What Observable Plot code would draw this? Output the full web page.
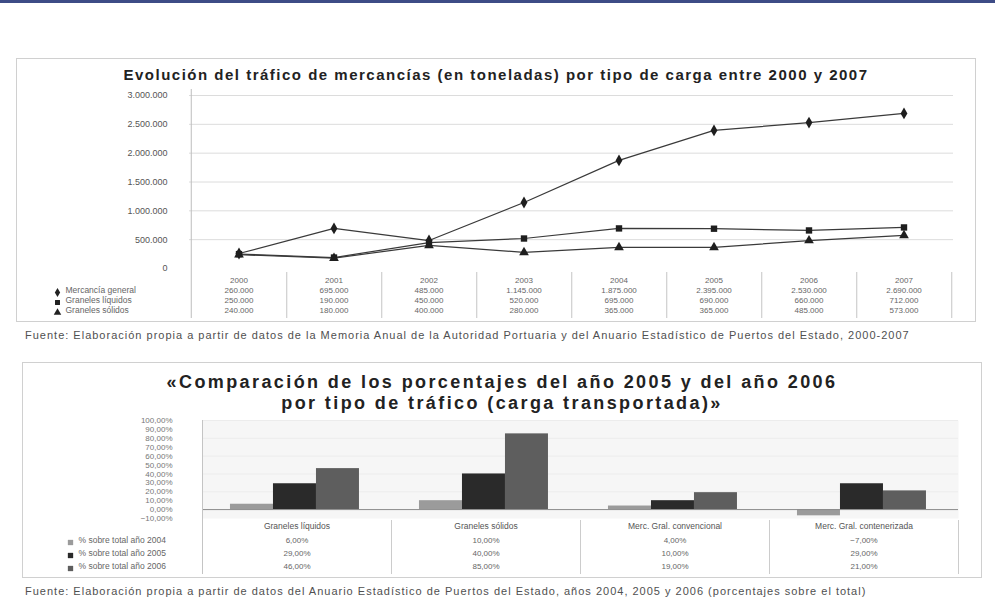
<!DOCTYPE html>
<html lang="es"><head><meta charset="utf-8">
<script src="https://cdn.jsdelivr.net/npm/d3@7"></script>
<script src="https://cdn.jsdelivr.net/npm/@observablehq/plot@0.6"></script>
<style>
html,body{margin:0;padding:0;background:#fff;}
body{width:995px;height:601px;position:relative;overflow:hidden;font-family:"Liberation Sans",Arial,sans-serif;}
#topbar{position:absolute;left:0;top:0;width:995px;height:3px;background:#3d4c86;}
.box{position:absolute;border:1px solid #d0d0d0;background:#fff;}
.title{position:absolute;left:0;right:0;text-align:center;font-weight:bold;color:#222;white-space:nowrap;}
.plotwrap{position:absolute;left:0;}
.src{position:absolute;left:25px;font-size:11px;color:#505050;white-space:nowrap;}
</style></head><body>
<div id="topbar"></div>
<div class="box" id="box1" style="left:16px;top:58px;width:958px;height:262px;">
  <div class="title" id="t1" style="top:7px;font-size:15px;letter-spacing:1.5px;"></div>
  <div class="plotwrap" id="p1" style="top:28px;"></div>
</div>
<div class="src" id="s1" style="top:329px;letter-spacing:1px;"></div>
<div class="box" id="box2" style="left:22px;top:362px;width:958px;height:214px;">
  <div class="title" id="t2" style="top:9px;font-size:18px;line-height:21px;letter-spacing:2.4px;"></div>
  <div class="plotwrap" id="p2" style="top:51px;"></div>
</div>
<div class="src" id="s2" style="top:585px;letter-spacing:1px;"></div>
<script>
// ---------- Data: chart 1 (line chart) ----------
const title1 = "Evolución del tráfico de mercancías (en toneladas) por tipo de carga entre 2000 y 2007";
const years = ["2000","2001","2002","2003","2004","2005","2006","2007"];
const seriesNames1 = ["Mercancía general","Graneles líquidos","Graneles sólidos"];
const serieMerc = [260000, 695000, 485000, 1145000, 1875000, 2395000, 2530000, 2690000];
const serieLiq  = [250000, 190000, 450000, 520000, 695000, 690000, 660000, 712000];
const serieSol  = [240000, 180000, 400000, 280000, 365000, 365000, 485000, 573000];
const yTicks1 = [0, 500000, 1000000, 1500000, 2000000, 2500000, 3000000];
const source1 = "Fuente: Elaboración propia a partir de datos de la Memoria Anual de la Autoridad Portuaria y del Anuario Estadístico de Puertos del Estado, 2000-2007";

// ---------- Data: chart 2 (grouped bars) ----------
const title2 = ["«Comparación de los porcentajes del año 2005 y del año 2006", "por tipo de tráfico (carga transportada)»"];
const cats2 = ["Graneles líquidos","Graneles sólidos","Merc. Gral. convencional","Merc. Gral. contenerizada"];
const seriesNames2 = ["% sobre total año 2004","% sobre total año 2005","% sobre total año 2006"];
const v2004 = [6, 10, 4, -7];
const v2005 = [29, 40, 10, 29];
const v2006 = [46, 85, 19, 21];
const yTicks2 = [-10, 0, 10, 20, 30, 40, 50, 60, 70, 80, 90, 100];
const source2 = "Fuente: Elaboración propia a partir de datos del Anuario Estadístico de Puertos del Estado, años 2004, 2005 y 2006 (porcentajes sobre el total)";

// ---------- helpers ----------
const loc = d3.formatLocale({decimal: ",", thousands: ".", grouping: [3], currency: ["", " €"]});
const fmtInt = loc.format(",d");
const fmt2 = loc.format(",.2f");
const fmtPct = v => fmt2(v) + "%";
const FONT = "'Liberation Sans', Arial, sans-serif";

document.getElementById("t1").textContent = title1;
document.getElementById("t2").innerHTML = title2.map(s => s.replace(/&/g,"&amp;").replace(/</g,"&lt;")).join("<br>");
document.getElementById("s1").textContent = source1;
document.getElementById("s2").textContent = source2;

// ---------- Chart 1 ----------
{
  const W = 958, H = 234, ML = 172, MR = 22, MT = 8, MB = 53;
  const bw = (W - ML - MR) / years.length;
  const plotH = H - MT - MB;
  const vals = [serieMerc, serieLiq, serieSol];
  const symbols = ["diamond", "square", "triangle"];
  const rows = seriesNames1.flatMap((s, i) => years.map((yr, j) => ({serie: s, year: yr, value: vals[i][j]})));
  const tableMarks = [];
  seriesNames1.forEach((s, i) => {
    const sub = rows.filter(d => d.serie === s);
    tableMarks.push(Plot.text(sub, {x: "year", text: d => fmtInt(d.value), frameAnchor: "bottom", dy: 24 + 10 * i, fill: "#666", fontSize: 8}));
    tableMarks.push(Plot.dot([s], {frameAnchor: "bottom-left", dx: -132, dy: 24 + 10 * i, symbol: d => d, fill: "#222", r: 2.8}));
    tableMarks.push(Plot.text([s], {frameAnchor: "bottom-left", dx: -124, dy: 24 + 10 * i, text: d => d, textAnchor: "start", fill: "#666", fontSize: 8.5}));
  });
  const chart = Plot.plot({
    width: W, height: H, marginLeft: ML, marginRight: MR, marginTop: MT, marginBottom: MB,
    style: {fontFamily: FONT, fontSize: "9px", background: "transparent", overflow: "visible", color: "#444"},
    x: {type: "band", domain: years, paddingInner: 0, paddingOuter: 0, axis: null},
    y: {domain: [0, yTicks1[yTicks1.length - 1]], axis: null},
    symbol: {domain: seriesNames1, range: symbols},
    marks: [
      Plot.gridY(yTicks1.slice(1), {stroke: "#dcdcdc", strokeOpacity: 1}),
      Plot.axisY(yTicks1, {tickSize: 0, tickPadding: 22, tickFormat: fmtInt, label: null, fill: "#555", fontSize: 9}),
      Plot.ruleX([years[0]], {x: d => d, dx: -bw / 2, insetTop: -6, insetBottom: -50, stroke: "#bdbdbd"}),
      Plot.ruleX(years, {x: d => d, dx: bw / 2, insetTop: plotH + 4, insetBottom: -50, stroke: "#c4c4c4"}),
      Plot.line(rows, {x: "year", y: "value", z: "serie", stroke: "#3a3a3a", strokeWidth: 1.2}),
      Plot.dot(rows, {x: "year", y: "value", symbol: "serie", fill: "#1e1e1e", r: 3.6}),
      Plot.text(years, {x: d => d, text: d => d, frameAnchor: "bottom", dy: 14, fill: "#666", fontSize: 8}),
      ...tableMarks
    ]
  });
  document.getElementById("p1").appendChild(chart);
}

// ---------- Chart 2 ----------
{
  const W = 958, H = 163, ML = 179, MR = 23, MT = 6, MB = 59;
  const bw = (W - ML - MR) / cats2.length;
  const vals = [v2004, v2005, v2006];
  const colors = ["#9b9b9b", "#2a2a2a", "#5e5e5e"];
  const barOff = bw * 0.148, barW = bw * 0.2275;
  const bars = vals.map((v, i) => Plot.barY(cats2.map((c, j) => ({cat: c, value: v[j]})), {
    x: "cat", y: "value", fill: colors[i],
    insetLeft: barOff + i * barW, insetRight: bw - barOff - (i + 1) * barW
  }));
  const tableMarks = [];
  seriesNames2.forEach((s, i) => {
    tableMarks.push(Plot.text(cats2.map((c, j) => ({cat: c, value: vals[i][j]})), {x: "cat", text: d => fmtPct(d.value), frameAnchor: "bottom", dy: 24 + 13 * i, fill: "#666", fontSize: 8}));
    tableMarks.push(Plot.dot([s], {frameAnchor: "bottom-left", dx: -132, dy: 24 + 13 * i, symbol: "square", fill: colors[i], r: 3}));
    tableMarks.push(Plot.text([s], {frameAnchor: "bottom-left", dx: -124, dy: 24 + 13 * i, text: d => d, textAnchor: "start", fill: "#666", fontSize: 8.5}));
  });
  const chart = Plot.plot({
    width: W, height: H, marginLeft: ML, marginRight: MR, marginTop: MT, marginBottom: MB,
    style: {fontFamily: FONT, fontSize: "8px", background: "transparent", overflow: "visible", color: "#444"},
    x: {type: "band", domain: cats2, paddingInner: 0, paddingOuter: 0, axis: null},
    y: {domain: [yTicks2[0], yTicks2[yTicks2.length - 1]], axis: null},
    marks: [
      Plot.frame({fill: "#f6f6f6", stroke: null}),
      Plot.gridY(yTicks2.filter(t => t > 0 && t % 20 === 0), {stroke: "#ececec", strokeOpacity: 1}),
      Plot.axisY(yTicks2, {tickSize: 0, tickPadding: 30, tickFormat: fmtPct, label: null, fill: "#777", fontSize: 8}),
      ...bars,
      Plot.ruleY([0], {stroke: "#8a8a8a"}),
      Plot.ruleX([cats2[0]], {x: d => d, dx: -bw / 2, insetTop: 0, insetBottom: -56, stroke: "#c4c4c4"}),
      Plot.ruleX(cats2, {x: d => d, dx: bw / 2, insetTop: 100, insetBottom: -56, stroke: "#cccccc"}),
      Plot.text(cats2, {x: d => d, text: d => d, frameAnchor: "bottom", dy: 10, fill: "#555", fontSize: 8.5}),
      ...tableMarks
    ]
  });
  document.getElementById("p2").appendChild(chart);
}
</script>
</body></html>
